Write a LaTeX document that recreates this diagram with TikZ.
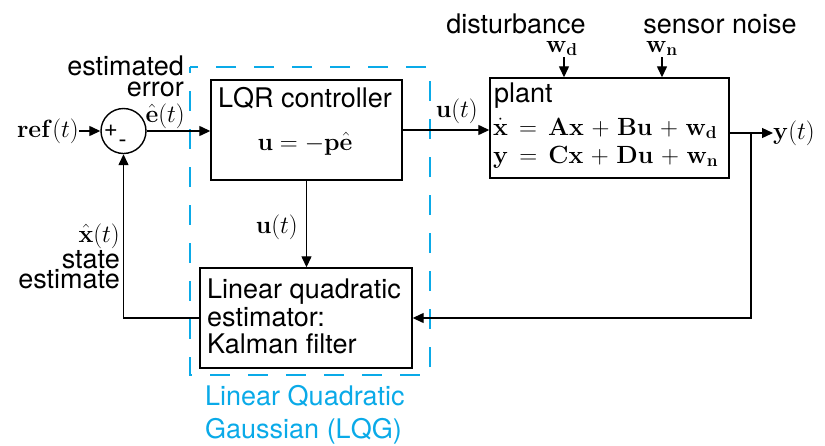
\documentclass[tikz,border=0pt]{standalone}
\usepackage[no-math]{fontspec}
\setmainfont{TeX Gyre Heros}
\usetikzlibrary{arrows.meta}
\definecolor{lqgblue}{RGB}{10,170,232}
\newcommand{\wideeq}{\thickmuskip=8mu\relax\medmuskip=5.5mu\relax}
\tikzset{
  txt/.style={inner sep=0pt, font=\fontsize{27}{30}\selectfont},
  mth/.style={inner sep=0pt, font=\fontsize{26}{30}\selectfont},
  peq/.style={inner sep=0pt, font=\fontsize{27}{30}\selectfont},
  sgn/.style={inner sep=0pt, font=\fontsize{24}{26}\selectfont},
  blk/.style={draw, line width=1.4pt, inner sep=0pt},
  wire/.style={line width=1.3pt},
  arr/.style={line width=1.3pt, -{Triangle[length=11pt,width=10pt]}},
  lqgbox/.style={draw=lqgblue, line width=1.5pt, dash pattern=on 20pt off 18pt, dash phase=14pt},
}
\begin{document}
\begin{tikzpicture}[x=1pt,y=-1pt]
\useasboundingbox (0,0) rectangle (825,445);

% LQG dashed frame
\draw[lqgbox] (190,67) rectangle (430,375);

% blocks
\node[blk, circle, minimum size=45pt] (sum) at (123.5,131) {};
\node[blk, minimum width=191pt, minimum height=100pt] (lqr) at (306.5,130) {};
\node[blk, minimum width=239pt, minimum height=100pt] (plant) at (609.5,128) {};
\node[blk, minimum width=212pt, minimum height=100pt] (est) at (306,318) {};

% sum signs
\node[sgn] (plus) at (111,131) {+};
\node[sgn] (minus) at (122.5,144) {-};

% texts inside blocks
\node[txt, anchor=base] (lqrt) at (305,107) {LQR controller};
\node[mth, anchor=base] (lqreq) at (305,150) {$\mathbf{u}=-\mathbf{p}\hat{\mathbf{e}}$};
\node[txt, anchor=base west] (plantt) at (494,102) {plant};
\node[peq, anchor=base west] (eq1) at (493,135) {$\wideeq\dot{\mathbf{x}}=\mathbf{A}\mathbf{x}+\mathbf{B}\mathbf{u}+\mathbf{w}_\mathbf{d}$};
\node[peq, anchor=base west] (eq2) at (493,163) {$\wideeq\mathbf{y}=\mathbf{C}\mathbf{x}+\mathbf{D}\mathbf{u}+\mathbf{w}_\mathbf{n}$};
\node[txt, anchor=base west] (est1) at (207,298) {Linear quadratic};
\node[txt, anchor=base west] (est2) at (207,326) {estimator:};
\node[txt, anchor=base west] (est3) at (207,353) {Kalman filter};

% outside labels
\node[mth, anchor=east] (ref) at (79,131) {$\mathbf{ref}(t)$};
\node[mth, anchor=base east] (ehat) at (185,122) {$\hat{\mathbf{e}}(t)$};
\node[txt, anchor=base east] (estm) at (184,75) {estimated};
\node[txt, anchor=base east] (err) at (184,96) {error};
\node[mth, anchor=base east] (ulab) at (478,117) {$\mathbf{u}(t)$};
\node[txt, anchor=base] (dist) at (516,33) {disturbance};
\node[txt, anchor=base] (sens) at (720,33) {sensor noise};
\node[mth, anchor=base] (wd) at (562,52) {$\mathbf{w}_\mathbf{d}$};
\node[mth, anchor=base] (wn) at (662,52) {$\mathbf{w}_\mathbf{n}$};
\node[mth, anchor=west] (yl) at (773,133) {$\mathbf{y}(t)$};
\node[mth, anchor=base east] (uvl) at (298,233) {$\mathbf{u}(t)$};
\node[mth, anchor=base east] (xhat) at (120,242) {$\hat{\mathbf{x}}(t)$};
\node[txt, anchor=base east] (stat) at (120,268) {state};
\node[txt, anchor=base east] (estim) at (120,288) {estimate};
\node[txt, anchor=base west, text=lqgblue] (lqg1) at (205,405) {Linear Quadratic};
\node[txt, anchor=base west, text=lqgblue] (lqg2) at (205,438) {Gaussian (LQG)};

% connector helper points
\coordinate (wdtop) at (564,57);
\coordinate (wntop) at (662,57);
\coordinate (pout) at (729,133);
\coordinate (br) at (751,133);

% connectors
\draw[arr] (ref.east) -- (sum.west);
\draw[arr] (sum.east) -- (sum.east -| lqr.west);
\draw[arr] (lqr.east) -- (lqr.east -| plant.west);
\draw[arr] (wdtop) -- (wdtop |- plant.north);
\draw[arr] (wntop) -- (wntop |- plant.north);
\draw[arr] (pout) -- (yl.west);
\draw[arr] (br) |- (est.east);
\draw[arr] (lqr.south) -- (lqr.south |- est.north);
\draw[arr] (est.west) -| (sum.south);
\end{tikzpicture}
\end{document}
